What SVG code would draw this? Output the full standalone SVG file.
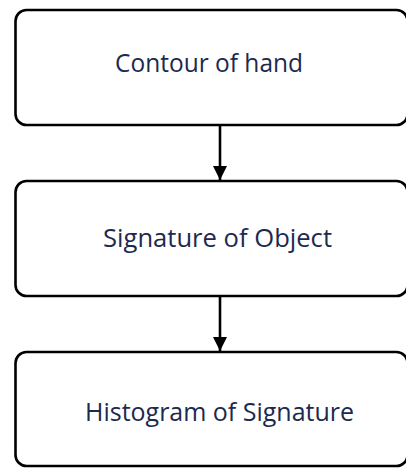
<svg xmlns="http://www.w3.org/2000/svg" width="406" height="469" viewBox="0 0 406 469">
<style>
.box{fill:#fff;stroke:#000;stroke-width:2.6}
.lbl{font-family:"Open Sans","Liberation Sans",sans-serif;font-size:25px;fill:#1c2a4e;text-anchor:middle}
.con{stroke:#000;stroke-width:2.6;fill:none}
</style>
<defs>
<marker id="ah" viewBox="0 0 14 14" refX="14" refY="7" markerWidth="14" markerHeight="14" markerUnits="userSpaceOnUse" orient="auto">
<path d="M0,0 L14,7 L0,14 Z" fill="#000"/>
</marker>
</defs>
<rect width="406" height="469" fill="#fff"/>
<g id="connectors">
<line class="con" x1="220" y1="125" x2="220" y2="180" marker-end="url(#ah)"/>
<line class="con" x1="220" y1="296" x2="220" y2="351" marker-end="url(#ah)"/>
</g>
<g id="n1">
<rect class="box" x="15.5" y="10" width="392" height="115" rx="11"/>
<text class="lbl" x="209" y="72" textLength="188" lengthAdjust="spacingAndGlyphs">Contour of hand</text>
</g>
<g id="n2">
<rect class="box" x="15.5" y="181" width="392" height="115" rx="11"/>
<text class="lbl" x="217.5" y="247" textLength="229" lengthAdjust="spacingAndGlyphs">Signature of Object</text>
</g>
<g id="n3">
<rect class="box" x="15.5" y="352" width="392" height="114" rx="11"/>
<text class="lbl" x="219.5" y="421" textLength="269" lengthAdjust="spacingAndGlyphs">Histogram of Signature</text>
</g>
</svg>
